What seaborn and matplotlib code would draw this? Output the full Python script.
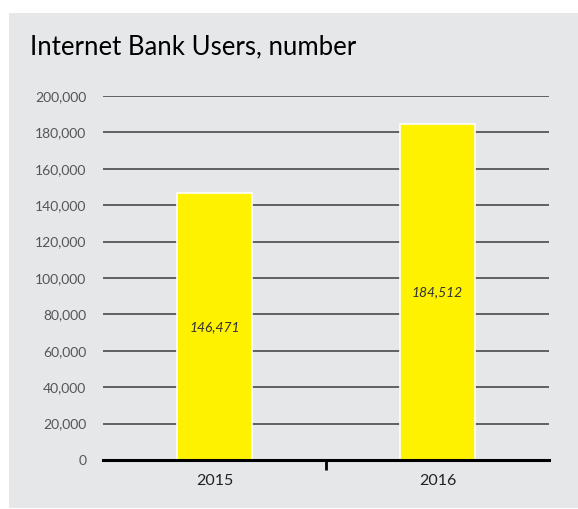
import matplotlib
matplotlib.use("Agg")
import matplotlib.pyplot as plt
import pandas as pd
import seaborn as sns
from matplotlib.patches import Rectangle
from matplotlib.ticker import FuncFormatter

years = ["2015", "2016"]
users = [146471, 184512]
value_labels = ["146,471", "184,512"]

df = pd.DataFrame({"Year": years, "Users": users})

sns.set_style("white")
plt.rcParams["font.family"] = ["Lato", "DejaVu Sans"]

fig = plt.figure(figsize=(5.78, 5.09), dpi=100)
fig.patch.set_facecolor("white")
# grey panel behind the chart
panel = Rectangle((9 / 578, 0.002), 1, 1 - 13 / 509 - 0.002,
                  transform=fig.transFigure, facecolor="#e6e7e9",
                  edgecolor="none", zorder=-10)
fig.add_artist(panel)

ax = fig.add_axes([103 / 578, 1 - 460 / 509, 446 / 578, 364 / 509])
ax.patch.set_alpha(0)

sns.barplot(data=df, x="Year", y="Users", color="#fff200", width=1 / 3,
            edgecolor="white", linewidth=1.2, saturation=1, ax=ax, zorder=3)

ax.set_ylim(0, 200000)
ax.set_xlim(-0.5, 1.5)
ax.set_yticks(range(0, 200001, 20000))
ax.yaxis.set_major_formatter(FuncFormatter(lambda v, p: f"{int(v):,}"))
ax.grid(axis="y", color="#4a4a4a", linewidth=1.2, zorder=1)
ax.set_axisbelow(True)

for s in ["top", "right", "left"]:
    ax.spines[s].set_visible(False)
ax.spines["bottom"].set_color("black")
ax.spines["bottom"].set_linewidth(2.2)
ax.spines["bottom"].set_zorder(4)

ax.tick_params(axis="y", length=0, labelsize=10, labelcolor="#555555", pad=12)
ax.tick_params(axis="x", length=0, labelsize=11.5, labelcolor="#222222", pad=10)
ax.set_xticks([0, 1], years)
ax.set_xticks([0.5], minor=True)
ax.tick_params(axis="x", which="minor", bottom=True, length=7, width=2,
               color="black", direction="out")
ax.set_xlabel("")
ax.set_ylabel("")

for i, (v, lab) in enumerate(zip(users, value_labels)):
    ax.text(i, v / 2, lab, ha="center", va="center", style="italic",
            fontsize=10, color="#333333", zorder=5)

fig.text(30 / 578, 1 - 47 / 509, "Internet Bank Users, number", ha="left",
         va="center", fontsize=18.5, color="black")

fig.savefig("out.png", dpi=100)
